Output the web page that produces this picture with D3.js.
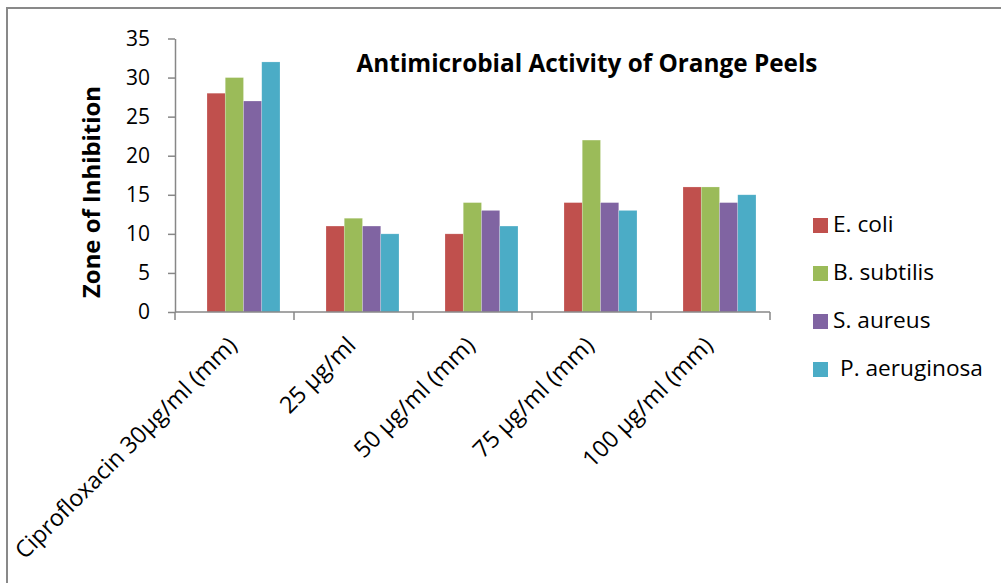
<!DOCTYPE html>
<html><head><meta charset="utf-8">
<script src="https://cdn.jsdelivr.net/npm/d3@7"></script>
<style>body{margin:0;background:#fff}svg{display:block;font-family:"Open Sans",sans-serif}</style>
</head><body>
<svg id="c" width="1001" height="583"></svg>
<script>
const categories = ["Ciprofloxacin 30µg/ml (mm)", "25 µg/ml", "50 µg/ml (mm)", "75 µg/ml (mm)", "100 µg/ml  (mm)"];
const seriesNames = ["E. coli", "B. subtilis", "S. aureus", "P. aeruginosa"];
const eColi = [28, 11, 10, 14, 16];
const bSubtilis = [30, 12, 14, 22, 16];
const sAureus = [27, 11, 13, 14, 14];
const pAeruginosa = [32, 10, 11, 13, 15];
const yTicks = [0, 5, 10, 15, 20, 25, 30, 35];
const colors = ["#C0504D", "#9BBB59", "#8064A2", "#4BACC6"];
const title = "Antimicrobial Activity of Orange Peels";
const yLabel = "Zone of Inhibition";

const series = [eColi, bSubtilis, sAureus, pAeruginosa];
const svg = d3.select("#c");

function fit(sel, w) {
  const n = sel.node();
  const fs = parseFloat(sel.attr("font-size"));
  const L = n.getComputedTextLength();
  sel.attr("font-size", (fs * w / L).toFixed(2));
}

// border
svg.append("path").attr("d", "M7,600 L7,8 L1010,8").attr("fill", "none").attr("stroke", "#898989").attr("stroke-width", 2);

const x0 = d3.scaleBand().domain(categories).range([175, 770]).paddingInner(0).paddingOuter(0);
const y = d3.scaleLinear().domain([0, 35]).range([312, 38.5]);
const x1 = d3.scaleBand().domain(seriesNames).range([32, 105]);

// bars
categories.forEach((c, ci) => {
  const g = svg.append("g").attr("transform", `translate(${x0(c)},0)`);
  g.selectAll("rect").data(series.map((s, si) => ({ v: s[ci], si })))
    .join("rect")
    .attr("x", d => x1(seriesNames[d.si]))
    .attr("width", x1.bandwidth())
    .attr("y", d => y(d.v))
    .attr("height", d => y(0) - y(d.v))
    .attr("fill", d => colors[d.si])
    .attr("stroke", "rgba(255,255,255,0.35)").attr("stroke-width", 0.6);
});

// y axis
const yAxis = d3.axisLeft(y).tickValues(yTicks).tickSize(7).tickPadding(18).tickSizeOuter(0);
const yg = svg.append("g").attr("transform", "translate(175,0)").call(yAxis);
yg.select(".domain").attr("stroke", "#878787").attr("stroke-width", 1.5);
yg.selectAll(".tick line").attr("stroke", "#878787").attr("stroke-width", 1.5);
yg.selectAll(".tick text").attr("font-size", 21).attr("font-family", "Open Sans").attr("fill", "#000");

// x axis
const xg = svg.append("g").attr("transform", "translate(0,312)");
xg.append("line").attr("x1", 175).attr("x2", 770).attr("stroke", "#878787").attr("stroke-width", 1.5);
const tickXs = categories.map(c => x0(c)).concat([x0(categories[4]) + x0.bandwidth()]);
xg.selectAll("line.t").data(tickXs).join("line").attr("class", "t")
  .attr("x1", d => d).attr("x2", d => d).attr("y1", 0).attr("y2", 8)
  .attr("stroke", "#878787").attr("stroke-width", 1.5);

const xl = svg.append("g").selectAll("text").data(categories).join("text")
  .attr("text-anchor", "end")
  .attr("font-size", 18)
  .attr("fill", "#000")
  .attr("transform", c => `translate(${x0(c) + x0.bandwidth() / 2 - 2},${341}) rotate(-45)`)
  .attr("dy", "0.35em")
  .text(c => c);
{
  const n = xl.nodes()[0];
  const L = n.getComputedTextLength();
  const fs = 18 * 302 / L;
  xl.attr("font-size", fs.toFixed(2));
}

// title
const t = svg.append("text").attr("x", 587).attr("y", 72).attr("text-anchor", "middle")
  .attr("font-weight", "bold").attr("font-size", 20).attr("fill", "#000").text(title);
fit(t, 461);

// y label
const yl = svg.append("text").attr("transform", "translate(100,192) rotate(-90)").attr("text-anchor", "middle")
  .attr("font-weight", "bold").attr("font-size", 20).attr("fill", "#000").text(yLabel);
fit(yl, 212);

// legend
const lg = svg.append("g");
const rows = lg.selectAll("g").data(seriesNames).join("g")
  .attr("transform", (d, i) => `translate(813,${218 + i * 48})`);
rows.append("rect").attr("width", 15).attr("height", 15).attr("fill", (d, i) => colors[i]);
const lt = rows.append("text").attr("x", (d, i) => i === 3 ? 27 : 20).attr("y", 6).attr("dy", "0.36em")
  .attr("font-size", 20).attr("fill", "#000").text(d => d);
{
  const n = lt.nodes()[3];
  const L = n.getComputedTextLength();
  lt.attr("font-size", (20 * 143 / L).toFixed(2));
}
</script>
</body></html>
